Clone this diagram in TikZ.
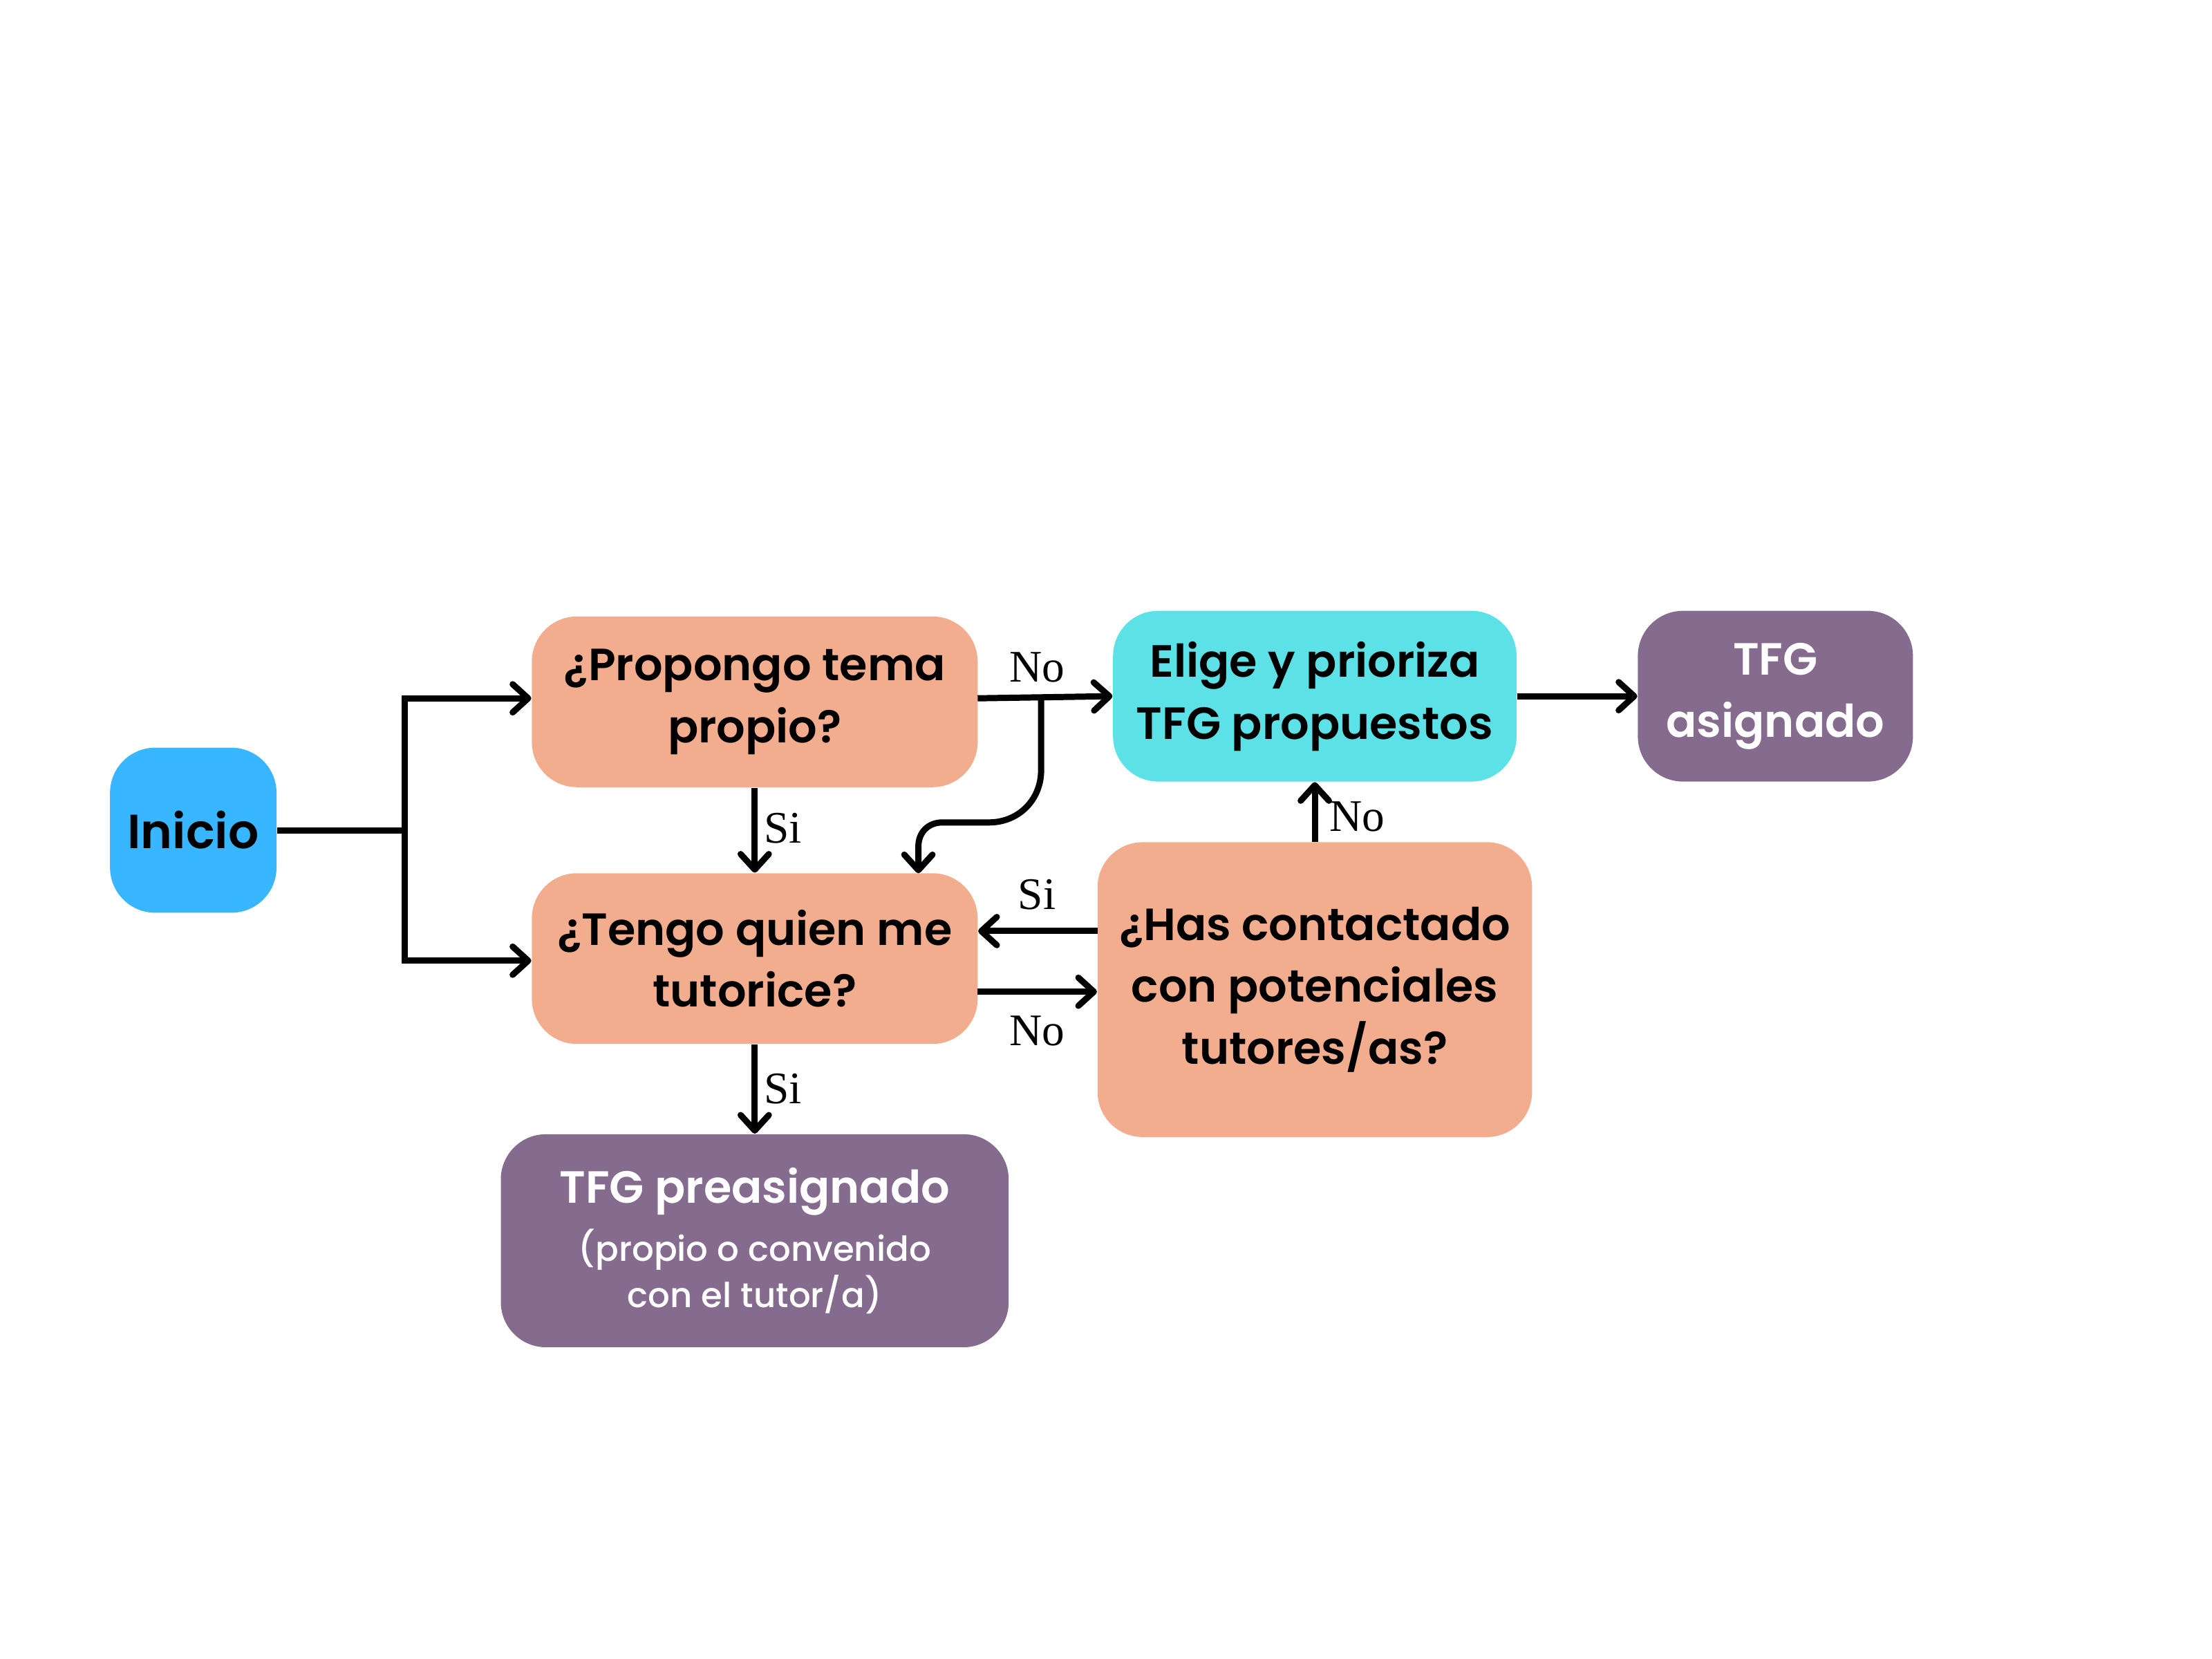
\documentclass[tikz,border=0pt]{standalone}
\usepackage{fontspec}
\setmainfont{Poppins}[BoldFont={Poppins SemiBold}]
\newfontfamily\smallfont{Poppins Medium}
\newfontfamily\labelfont{Liberation Serif}
\usetikzlibrary{arrows.meta}
\definecolor{salmon}{HTML}{F1AD8E}
\definecolor{cyanb}{HTML}{5CE1E6}
\definecolor{purp}{HTML}{856B8E}
\definecolor{blueb}{HTML}{38B6FF}
\newcommand{\smallpre}{\mdseries\smallfont\fontsize{12.2}{16.5}\selectfont}
\tikzset{
  box/.style={rounded corners=16pt, inner sep=0pt, align=center, text=black,
    font=\bfseries\fontsize{16}{22}\selectfont},
  conn/.style={line width=2.2pt, -{Straight Barb[length=5.5pt,width=10pt,round]}},
  plain/.style={line width=2.2pt},
  lbl/.style={font=\labelfont\fontsize{16}{16}\selectfont, inner sep=0pt}
}
\begin{document}
\begin{tikzpicture}[x=0.5pt,y=-0.5pt]
\useasboundingbox (0,0) rectangle (1568,1176);
% nodes
\node[box, fill=blueb, minimum width=59pt, minimum height=58.5pt, font=\bfseries\fontsize{17}{22}\selectfont] (inicio) at (137,588.5) {Inicio};
\node[box, fill=salmon, minimum width=158pt, minimum height=60.5pt] (prop) at (535,497.5) {¿Propongo tema\\propio?};
\node[box, fill=salmon, minimum width=158pt, minimum height=60.5pt] (tengo) at (535,679.5) {¿Tengo quien me\\tutorice?};
\node[box, fill=purp, text=white, minimum width=180pt, minimum height=75.5pt] (pre) at (535,879.5)
  {TFG preasignado\\[-1.5pt]\smallpre (propio o convenido\\[-5.5pt]\smallpre con el tutor/a)};
\node[box, fill=cyanb, minimum width=143pt, minimum height=60.5pt] (elige) at (932,493.5) {Elige y prioriza\\TFG propuestos};
\node[box, fill=purp, text=white, minimum width=97.5pt, minimum height=60.5pt] (asig) at (1258.5,493.5) {TFG\\asignado};
\node[box, fill=salmon, minimum width=154pt, minimum height=104.5pt] (has) at (932,701.5) {¿Has contactado\\con potenciales\\tutores/as?};
% split from Inicio
\coordinate (split) at (287,588.5);
\coordinate (splitT) at (287,495);
\coordinate (splitB) at (287,681);
\draw[plain] (inicio.east) -- (split);
\draw[plain, line cap=rect] (splitT) -- (splitB);
\draw[conn] (splitT) -- (splitT -| prop.west);
\draw[conn] (splitB) -- (splitB -| tengo.west);
% Propongo -> Elige (No)
\coordinate (pstart) at (693,495);
\coordinate (junc) at (738,494.5);
\draw[conn] (pstart) -- (elige.west);
\node[lbl] (lno1) at (735,473) {No};
% branch down to Tengo
\coordinate (tin) at (651,619);
\draw[conn] (junc) -- (738,546) .. controls (738,567) and (722,583) .. (701,583) -- (668,583)
  .. controls (658,583) and (651,590) .. (651,600) -- (tin);
% Propongo -> Tengo (Si)
\draw[conn] (prop.south) -- (tengo.north);
\node[lbl] (lsi1) at (555,587) {Si};
% Has -> Tengo (Si)
\coordinate (hasSi) at (778,660);
\draw[conn] (hasSi) -- (hasSi -| tengo.east);
\node[lbl] (lsi2) at (735,634) {Si};
% Tengo -> Has (No)
\coordinate (tenNo) at (693,703);
\draw[conn] (tenNo) -- (tenNo -| has.west);
\node[lbl] (lno2) at (735,731) {No};
% Has -> Elige (No)
\draw[conn] (has.north) -- (elige.south);
\node[lbl] (lno3) at (962,579) {No};
% Elige -> asignado
\draw[conn] (elige.east) -- (asig.west);
% Tengo -> preasignado (Si)
\draw[conn] (tengo.south) -- (pre.north);
\node[lbl] (lsi3) at (555,772) {Si};
\end{tikzpicture}
\end{document}
